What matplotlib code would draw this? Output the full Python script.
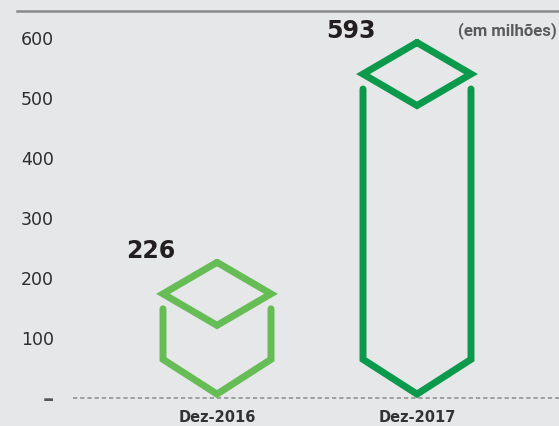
import matplotlib
matplotlib.use("Agg")
import matplotlib.pyplot as plt
from matplotlib.lines import Line2D

# ---- data ----
categories = ["Dez-2016", "Dez-2017"]
values = [226, 593]
value_labels = ["226", "593"]
bar_colors = ["#66BC55", "#0B9A4B"]
y_ticks = [0, 100, 200, 300, 400, 500, 600]
y_tick_labels = ["\u2013", "100", "200", "300", "400", "500", "600"]
unit_note = "(em milhões)"

# ---- style constants for the cube glyph (data units) ----
HALF_W = 0.27      # half width of cube (x units)
DIAM_H = 52.6      # half height of top diamond
GAP = 25           # gap between diamond side vertex and vertical side
V_H = 58           # height of bottom V
BASE = 6           # bottom point above zero

BG = "#E6E7E8"
fig = plt.figure(figsize=(5.59, 4.26), dpi=100, facecolor=BG)
ax = fig.add_axes([73 / 559, (426 - 397.7) / 426, 1 - 73 / 559, (397.7 - 2.4) / 426])
ax.set_facecolor(BG)

x_pos = list(range(len(categories)))
ax.set_xlim(-0.72, 1.71)
ax.set_ylim(0, 660)

for x, v, c, lab in zip(x_pos, values, bar_colors, value_labels):
    mid = v - DIAM_H
    dx = [x, x + HALF_W, x, x - HALF_W, x]
    dy = [v, mid, v - 2 * DIAM_H, mid, v]
    ax.plot(dx, dy, color=c, lw=5, solid_joinstyle="miter", solid_capstyle="round", clip_on=False)
    sx = [x - HALF_W, x - HALF_W, x, x + HALF_W, x + HALF_W]
    sy = [mid - GAP, BASE + V_H, BASE, BASE + V_H, mid - GAP]
    ax.plot(sx, sy, color=c, lw=5, solid_joinstyle="miter", solid_capstyle="round", clip_on=False)
    ax.annotate(lab, xy=(x, v), xytext=(-47.5, 8), textcoords="offset points",
                ha="center", va="center", fontsize=17, fontweight="bold", color="#231F20")

ax.axhline(0, color="#A0A0A0", lw=1.4, linestyle=(0, (2.2, 1.5)), zorder=0, clip_on=False)

ax.set_yticks(y_ticks)
ax.set_yticklabels(y_tick_labels, fontsize=12.5, color="#2E2E2E")
zero_lab = ax.get_yticklabels()[0]
zero_lab.set_fontweight("bold")
zero_lab.set_fontsize(16)
zero_lab.set_color("#555555")
ax.set_xticks(x_pos)
ax.set_xticklabels(categories, fontsize=10.5, fontweight="bold", color="#333333")
ax.tick_params(axis="y", length=0, pad=13.7)
ax.tick_params(axis="x", length=0, pad=9)
for s in ax.spines.values():
    s.set_visible(False)

fig.text(557 / 559, (426 - 31) / 426, unit_note, ha="right", va="center",
         fontsize=12, fontweight="bold", color="#5A5A5A", family=["Roboto", "DejaVu Sans"])
fig.add_artist(Line2D([17 / 559, 1.0], [(426 - 11) / 426] * 2, color="#8A8A8A", lw=1.8))

fig.savefig("out.png", dpi=100, facecolor=BG)
